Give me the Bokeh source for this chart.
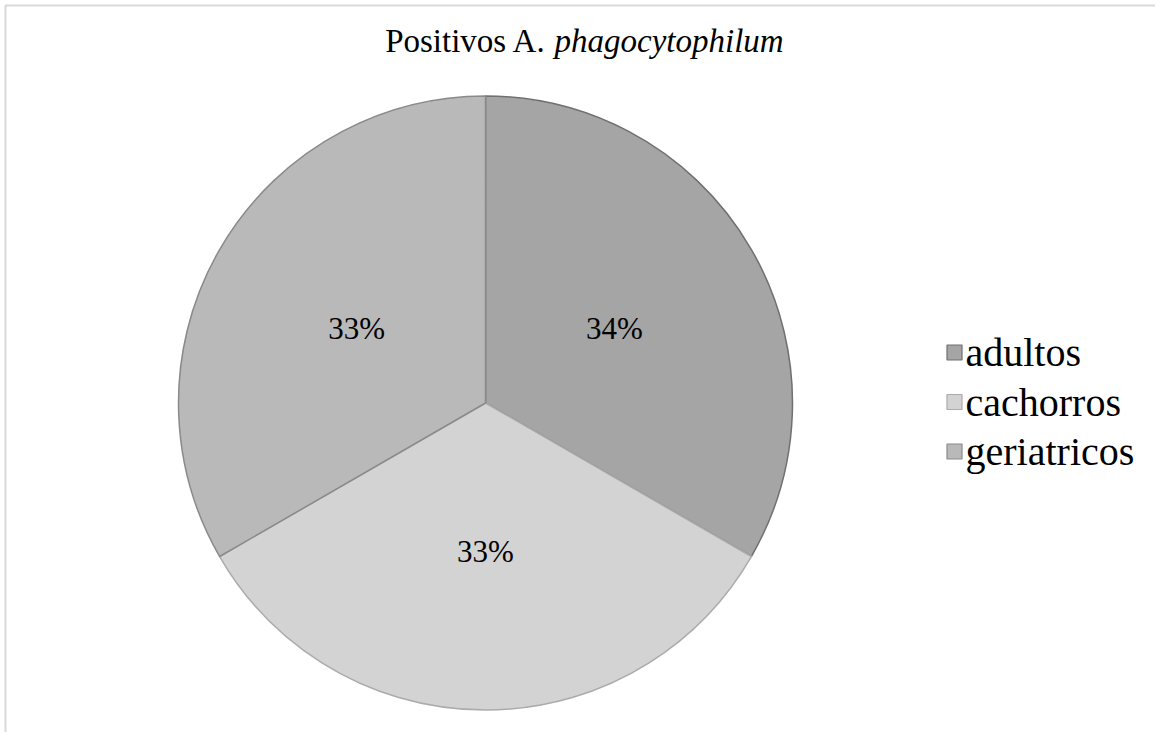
import numpy as np
from bokeh.plotting import figure
from bokeh.models import Range1d
from bokeh.core.properties import value
from bokeh.embed import file_html
from bokeh.resources import INLINE

# ---- data ----
categories = ["adultos", "cachorros", "geriatricos"]
shares = [1.0, 1.0, 1.0]
pct_labels = ["34%", "33%", "33%"]
fill_colors = ["#a5a5a5", "#d3d3d3", "#b9b9b9"]
edge_colors = ["#707070", "#ababab", "#8a8a8a"]
title_plain = "Positivos A."
title_italic = "phagocytophilum"

W, H = 1155, 732
FONT = "Liberation Serif"

p = figure(width=W, height=H, output_backend="svg", toolbar_location=None,
           x_range=Range1d(0, W), y_range=Range1d(0, H), min_border=0)
p.axis.visible = False
p.grid.visible = False
p.outline_line_color = None
p.background_fill_color = "white"
p.border_fill_color = "white"

def Y(ypx):
    return H - ypx

# frame of the chart area (extends beyond the window right/bottom)
p.quad(left=5, right=W + 50, top=Y(5), bottom=-50, fill_alpha=0,
       line_color="#d9d9d9", line_width=2)

cx, cy, r = 485, Y(402.5), 307
vals = np.array(shares, dtype=float)
frac = vals / vals.sum()
cum = np.concatenate([[0], np.cumsum(frac)])
start = np.pi / 2 - cum[:-1] * 2 * np.pi
end = np.pi / 2 - cum[1:] * 2 * np.pi
mid = (start + end) / 2

for i in range(len(categories)):
    p.wedge(x=cx, y=cy, radius=r, start_angle=start[i], end_angle=end[i],
            direction="clock", fill_color=fill_colors[i],
            line_color=edge_colors[i], line_width=1.5)

lr = 0.485 * r
p.text(x=cx + lr * np.cos(mid), y=cy + lr * np.sin(mid), text=pct_labels,
       text_font=value(FONT), text_font_size="31px", text_color="black",
       text_align="center", text_baseline="middle")

# title
p.text(x=[546], y=[Y(40)], text=[title_plain], text_font=value(FONT),
       text_font_size="33px", text_align="right", text_baseline="middle",
       text_color="black")
p.text(x=[554], y=[Y(40)], text=[title_italic], text_font=value(FONT),
       text_font_size="33px", text_font_style="italic", text_align="left",
       text_baseline="middle", text_color="black")

# legend
ly = [Y(352 + 49.5 * i) for i in range(len(categories))]
p.rect(x=[954] * 3, y=ly, width=15, height=15, fill_color=fill_colors,
       line_color=edge_colors, line_width=1.2)
p.text(x=[965] * 3, y=ly, text=categories, text_font=value(FONT),
       text_font_size="40px", text_baseline="middle", text_align="left",
       text_color="black")

open("out.html", "w").write(file_html(p, INLINE))
